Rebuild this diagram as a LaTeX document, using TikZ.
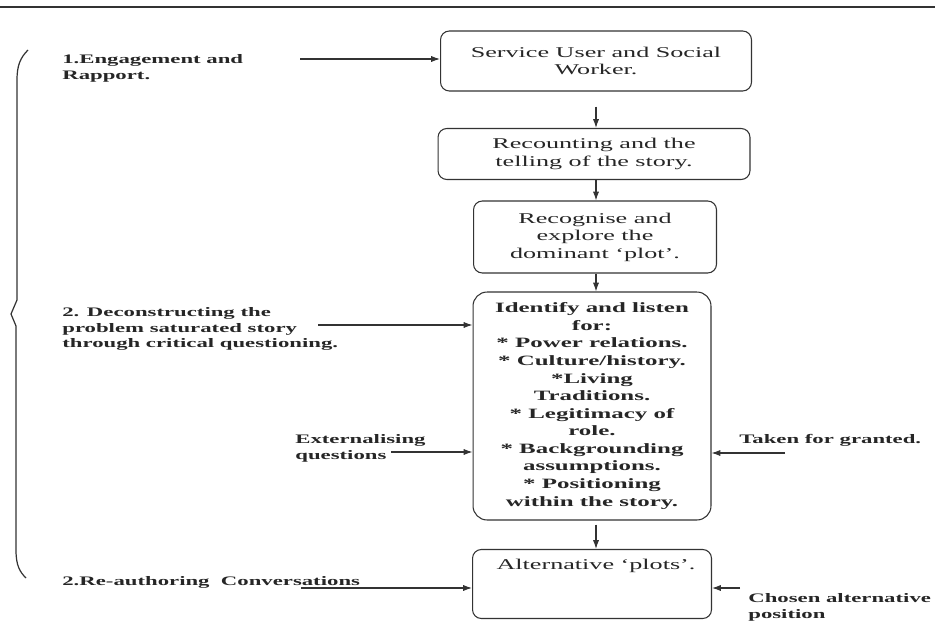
\documentclass[tikz,border=0pt]{standalone}
\usepackage{fontspec}
\setmainfont{Liberation Serif}[FakeStretch=1.75]
\usetikzlibrary{arrows.meta}
\begin{document}
\begin{tikzpicture}[x=0.02cm, y=-0.02cm,
  every node/.style={align=center, text=black!85, inner sep=0pt},
  box/.style={draw=black!80, line width=0.6pt, rounded corners=5pt, font=\fontsize{8.5}{10}\selectfont},
  lbl/.style={align=left, anchor=west, font=\fontsize{7.4}{9}\selectfont\bfseries},
  arr/.style={draw=black!80, line width=0.6pt, -{Latex[length=5pt,width=3.5pt]}}]
\useasboundingbox (0,0) rectangle (935,621);
\draw[line width=1pt, black!80] (0,7) -- (935,7);

% main column
\node[box, minimum width=6.22cm, minimum height=1.2cm] (user) at (596,61) {Service User and Social\\Worker.};
\node[box, minimum width=6.24cm, minimum height=1.02cm] (recount) at (594,154) {Recounting and the\\telling of the story.};
\node[box, minimum width=4.86cm, minimum height=1.44cm] (plot) at (595,237) {Recognise and\\explore the\\dominant `plot'.};
\node[box, rounded corners=8pt, minimum width=4.76cm, minimum height=4.56cm, font=\fontsize{8.1}{10}\selectfont\bfseries] (listen) at (592,406)
  {Identify and listen\\for:\\* Power relations.\\* Culture/history.\\*Living\\Traditions.\\* Legitimacy of\\role.\\* Backgrounding\\assumptions.\\* Positioning\\within the story.};
\node[box, minimum width=4.78cm, minimum height=1.38cm] (alt) at (592,584) {};
\node[font=\fontsize{8.5}{10}\selectfont] (alttext) at (596,566) {Alternative `plots'.};

\draw[arr] ([yshift=-0.3cm]user.south) -- (user.south |- recount.north);
\draw[arr] (recount.south -| user.south) -- (user.south |- plot.north);
\draw[arr] (plot.south -| user.south) -- (user.south |- listen.north);
\draw[arr] ([yshift=-0.08cm]listen.south -| user.south) -- (user.south |- alt.north);

% stages on the left
\draw[line width=0.7pt, black!80] (28,50) .. controls (20,58) and (17,66) .. (17,80) -- (17,300) -- (11,314) -- (16,326) -- (16,550) .. controls (16,566) and (20,572) .. (26,578);

\node[lbl] (engage) at (62,68) {1.Engagement and\\Rapport.};
\coordinate (e1) at (300,59);
\draw[arr] (e1) -- (e1 -| user.west);

\node[lbl] (decon) at (62,329) {2. Deconstructing the\\problem saturated story\\through critical questioning.};
\coordinate (d1) at (318,325);
\draw[arr] (d1) -- (d1 -| listen.west);

\node[lbl] (extq) at (295,448) {Externalising\\questions};
\coordinate (x1) at (391,452);
\draw[arr] (x1) -- (x1 -| listen.west);

\node[lbl] (taken) at (739,440) {Taken for granted.};
\coordinate (t1) at (785,453);
\draw[arr] (t1) -- (t1 -| listen.east);

\node[lbl] (reauth) at (62,582) {2.Re-authoring\ \ Conversations};
\coordinate (r1) at (301,588);
\draw[arr] (r1) -- (r1 -| alt.west);

\node[lbl] (chosen) at (748,607) {Chosen alternative\\position};
\coordinate (c1) at (740,588);
\draw[arr] (c1) -- (c1 -| alt.east);
\end{tikzpicture}
\end{document}
